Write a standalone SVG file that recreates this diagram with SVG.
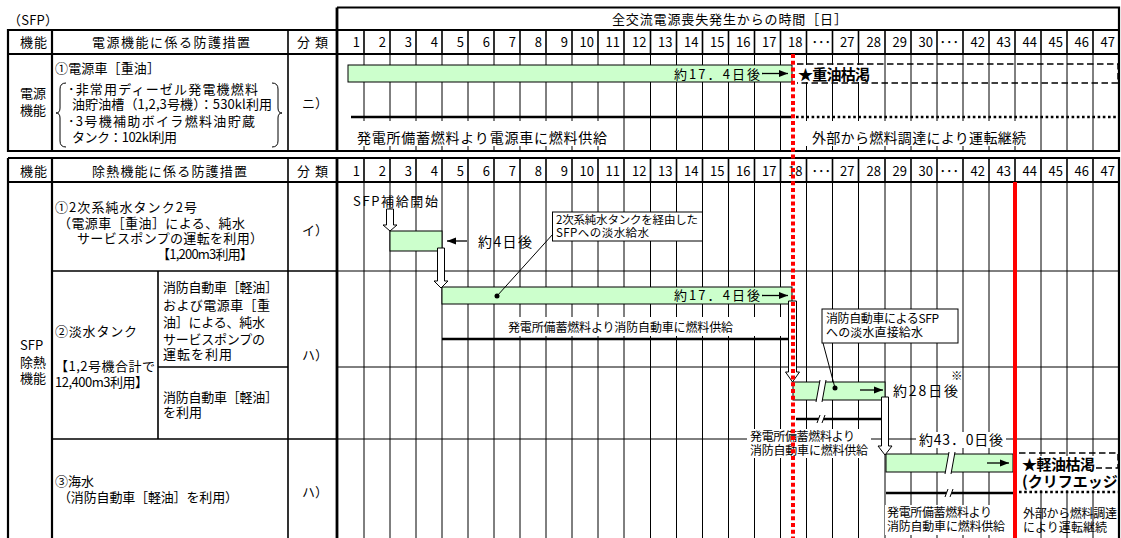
<svg xmlns="http://www.w3.org/2000/svg" width="1121" height="538" viewBox="0 0 1121 538">
<defs>
<style>
text{font-family:"Noto Sans CJK JP","Noto Sans CJK SC",sans-serif;fill:#000}
.f13{font-size:13px}
.f14{font-size:14px}
.f12{font-size:12px}
.f11{font-size:11.5px}
.num{font-size:13px;text-anchor:end}
.bold{font-size:15px;font-weight:bold}
.g{stroke:#000;stroke-width:1;fill:none}
.gh{stroke:#000;stroke-width:1.6;fill:none}
.b{stroke:#000;stroke-width:2.2;fill:none}
.bt{stroke:#000;stroke-width:2.8;fill:none}
.bar{fill:#ccffcc;stroke:#000;stroke-width:1}
.wb{fill:#fff;stroke:none}
.box{fill:#fff;stroke:#000;stroke-width:1}
.hol{fill:#fff;stroke:#000;stroke-width:1}
.thick{stroke:#000;stroke-width:2.6;fill:none}
.dotl{stroke:#000;stroke-width:2.6;stroke-dasharray:2.6 2.6;fill:none}
.dash{stroke:#000;stroke-width:1.4;stroke-dasharray:6.5 3.5;fill:none}
.arr{stroke:#000;stroke-width:1.3;fill:none;marker-end:url(#ah)}
.lead{stroke:#000;stroke-width:1;fill:none}
.redd{stroke:#ff0000;stroke-width:4;stroke-dasharray:4 2.7;fill:none}
.reds{stroke:#ff0000;stroke-width:4;fill:none}
</style>
<marker id="ah" markerWidth="9" markerHeight="8" refX="9" refY="4" orient="auto" markerUnits="userSpaceOnUse"><path d="M0,0.5 L9,4 L0,7.5 Z" fill="#000"/></marker>
<clipPath id="clipR"><rect x="0" y="0" width="1118" height="538"/></clipPath>
</defs>
<rect width="1121" height="538" fill="#fff"/>

<g id="grid">
<path class="gh" d="M364,30V54M390,30V54M416,30V54M442,30V54M468,30V54M494,30V54M520,30V54M546,30V54M572,30V54M598,30V54M624,30V54M650.5,30V54M676.5,30V54M702.5,30V54M728.5,30V54M754.5,30V54M780.5,30V54M806.5,30V54M832.5,30V54M858.5,30V54M885,30V54M911,30V54M937,30V54M963,30V54M989,30V54M1015,30V54M1041,30V54M1067,30V54M1093,30V54"/>
<path class="g" d="M364,54V151M390,54V151M416,54V151M442,54V151M468,54V151M494,54V151M520,54V151M546,54V151M572,54V151M598,54V151M624,54V151M650.5,54V151M676.5,54V151M702.5,54V151M728.5,54V151M754.5,54V151M780.5,54V151M806.5,54V151M832.5,54V151M858.5,54V151M885,54V151M911,54V151M937,54V151M963,54V151M989,54V151M1015,54V151M1041,54V151M1067,54V151M1093,54V151"/>
<path class="gh" d="M364,158V182M390,158V182M416,158V182M442,158V182M468,158V182M494,158V182M520,158V182M546,158V182M572,158V182M598,158V182M624,158V182M650.5,158V182M676.5,158V182M702.5,158V182M728.5,158V182M754.5,158V182M780.5,158V182M806.5,158V182M832.5,158V182M858.5,158V182M885,158V182M911,158V182M937,158V182M963,158V182M989,158V182M1015,158V182M1041,158V182M1067,158V182M1093,158V182"/>
<path class="g" d="M364,182V538M390,182V538M416,182V538M442,182V538M468,182V538M494,182V538M520,182V538M546,182V538M572,182V538M598,182V538M624,182V538M650.5,182V538M676.5,182V538M702.5,182V538M728.5,182V538M754.5,182V538M780.5,182V538M806.5,182V538M832.5,182V538M858.5,182V538M885,182V538M911,182V538M937,182V538M963,182V538M989,182V538M1015,182V538M1041,182V538M1067,182V538M1093,182V538"/>
<path class="g" d="M337,271H1119M337,367H1119M337,439H1119"/>
<path class="gh" d="M52,271H337M158,367H288M52,439H337M158,271V439M288,158V538M288,30V151"/>
<path class="b" d="M337,7.5H1119V151H8V30H1119M8,54H1119M52,30V151M8,158H1119V538M8,158V538M8,182H1119M52,158V538"/>
<path class="bt" d="M337,7.5V151M337,158V538"/>
</g>

<g id="header-top">
<text class="f13" x="8" y="25" textLength="50">（SFP）</text>
<text class="f13" x="612" y="24" textLength="235">全交流電源喪失発生からの時間［日］</text>
<text class="f13" x="20" y="47" textLength="27">機能</text>
<text class="f13" x="92" y="47" textLength="158">電源機能に係る防護措置</text>
<text class="f13" x="297" y="47" textLength="31">分類</text>
<g class="num">
<text x="360" y="47">1</text><text x="386" y="47">2</text><text x="412" y="47">3</text><text x="438" y="47">4</text><text x="464" y="47">5</text><text x="490" y="47">6</text><text x="516" y="47">7</text><text x="542" y="47">8</text><text x="568" y="47">9</text><text x="594" y="47">10</text><text x="620" y="47">11</text><text x="646.5" y="47">12</text><text x="672.5" y="47">13</text><text x="698.5" y="47">14</text><text x="724.5" y="47">15</text><text x="750.5" y="47">16</text><text x="776.5" y="47">17</text><text x="802.5" y="47">18</text><text x="831" y="47">･･･</text><text x="854.5" y="47">27</text><text x="881" y="47">28</text><text x="907" y="47">29</text><text x="933" y="47">30</text><text x="959" y="47">･･･</text><text x="985" y="47">42</text><text x="1011" y="47">43</text><text x="1037" y="47">44</text><text x="1063" y="47">45</text><text x="1089" y="47">46</text><text x="1115" y="47">47</text>
</g>
</g>

<g id="row-power">
<text class="f13" x="20" y="98">電源</text>
<text class="f13" x="20" y="115">機能</text>
<text class="f13" x="55" y="73" textLength="105">①電源車［重油］</text>
<path class="lead" d="M66,83 Q60,83 60,89 L60,108 Q60,113 56,113 Q60,113 60,118 L60,141 Q60,147 66,147"/>
<path class="lead" d="M272,83 Q278,83 278,89 L278,108 Q278,113 282,113 Q278,113 278,118 L278,141 Q278,147 272,147"/>
<text class="f13" x="68" y="94" textLength="190">･非常用ディーゼル発電機燃料</text>
<text class="f13" x="72" y="109" textLength="200">油貯油槽（1,2,3号機）：530kl利用</text>
<text class="f13" x="68" y="126" textLength="187">･3号機補助ボイラ燃料油貯蔵</text>
<text class="f13" x="72" y="142" textLength="105">タンク：102kl利用</text>
<text class="f13" x="302" y="108">ニ）</text>
</g>

<g id="bar-power">
<rect class="bar" x="348" y="65" width="444" height="17"/>
<text class="f13" x="674" y="79" textLength="86">約17．4日後</text>
<path class="dash" d="M797,64H1118V83H797"/>
<rect class="wb" x="796" y="65" width="76" height="17"/>
<text class="bold" x="798" y="80" textLength="72">★重油枯渇</text>
<path class="thick" d="M351,117H792"/>
<path class="dotl" d="M796,117H1119"/>
<rect class="wb" x="339" y="121" width="272" height="25"/>
<text class="f14" x="357" y="143" textLength="250">発電所備蓄燃料より電源車に燃料供給</text>
<rect class="wb" x="797" y="121" width="238" height="25"/>
<text class="f14" x="812" y="143" textLength="214">外部から燃料調達により運転継続</text>
</g>

<g id="header-lower">
<text class="f13" x="20" y="176" textLength="27">機能</text>
<text class="f13" x="92" y="176" textLength="155">除熱機能に係る防護措置</text>
<text class="f13" x="297" y="176" textLength="31">分類</text>
<g class="num">
<text x="360" y="176">1</text><text x="386" y="176">2</text><text x="412" y="176">3</text><text x="438" y="176">4</text><text x="464" y="176">5</text><text x="490" y="176">6</text><text x="516" y="176">7</text><text x="542" y="176">8</text><text x="568" y="176">9</text><text x="594" y="176">10</text><text x="620" y="176">11</text><text x="646.5" y="176">12</text><text x="672.5" y="176">13</text><text x="698.5" y="176">14</text><text x="724.5" y="176">15</text><text x="750.5" y="176">16</text><text x="776.5" y="176">17</text><text x="802.5" y="176">18</text><text x="831" y="176">･･･</text><text x="854.5" y="176">27</text><text x="881" y="176">28</text><text x="907" y="176">29</text><text x="933" y="176">30</text><text x="959" y="176">･･･</text><text x="985" y="176">42</text><text x="1011" y="176">43</text><text x="1037" y="176">44</text><text x="1063" y="176">45</text><text x="1089" y="176">46</text><text x="1115" y="176">47</text>
</g>
</g>

<g id="row-labels-lower">
<text class="f13" x="20" y="350">SFP</text>
<text class="f13" x="20" y="367">除熱</text>
<text class="f13" x="20" y="383">機能</text>
<text class="f13" x="55" y="212" textLength="142">①2次系純水タンク2号</text>
<text class="f13" x="58" y="228" textLength="187">（電源車［重油］による、純水</text>
<text class="f13" x="77" y="243" textLength="186">サービスポンプの運転を利用）</text>
<text class="f13" x="157" y="259" textLength="96">【1,200m3利用】</text>
<text class="f13" x="302" y="235">イ）</text>
<text class="f13" x="55" y="336" textLength="82">②淡水タンク</text>
<text class="f13" x="55" y="371" textLength="100">【1,2号機合計で</text>
<text class="f13" x="55" y="387" textLength="93">12,400m3利用】</text>
<text class="f13" x="163" y="292" textLength="115">消防自動車［軽油］</text>
<text class="f13" x="163" y="310" textLength="107">および電源車［重</text>
<text class="f13" x="163" y="327" textLength="102">油］による、純水</text>
<text class="f13" x="163" y="344" textLength="102">サービスポンプの</text>
<text class="f13" x="163" y="359" textLength="69">運転を利用</text>
<text class="f13" x="163" y="402" textLength="115">消防自動車［軽油］</text>
<text class="f13" x="163" y="417">を利用</text>
<text class="f13" x="302" y="360">ハ）</text>
<text class="f13" x="55" y="486">③海水</text>
<text class="f13" x="58" y="502" textLength="180">（消防自動車［軽油］を利用）</text>
<text class="f13" x="302" y="497">ハ）</text>
</g>

<g id="row1-tank2">
<text class="f13" x="353" y="206" textLength="85">SFP補給開始</text>
<rect class="bar" x="390" y="231" width="52" height="20"/>
<text class="f14" x="478" y="247" textLength="54">約4日後</text>
</g>

<g id="callout-1">
<rect class="box" x="552.5" y="212" width="150" height="29"/>
<text class="f11" x="556" y="224" textLength="142">2次系純水タンクを経由した</text>
<text class="f11" x="556" y="237" textLength="93">SFPへの淡水給水</text>
</g>

<g id="row2-fresh">
<rect class="bar" x="442" y="287" width="350" height="17"/>
<text class="f13" x="674" y="300" textLength="86">約17．4日後</text>
<rect class="wb" x="500" y="317" width="282" height="19"/>
<text class="f12" x="508" y="332" textLength="225">発電所備蓄燃料より消防自動車に燃料供給</text>
<path class="thick" d="M442,339H790"/>
</g>

<g id="callout-2">
<rect class="box" x="822" y="309" width="136" height="34"/>
<text class="f12" x="826" y="323" textLength="113">消防自動車によるSFP</text>
<text class="f12" x="826" y="337" textLength="97">への淡水直接給水</text>
</g>

<g id="row2-fire">
<rect class="bar" x="793" y="382" width="92" height="18"/>
<polygon class="wb" points="820,380 826,380 822,402 816,402"/>
<path class="lead" d="M820,380L816,402M826,380L822,402"/>
<text class="f14" x="893" y="396" textLength="65">約28日後</text>
<text class="f11" x="951" y="380">※</text>
<path class="thick" d="M796,419H882"/>
<polygon class="wb" points="820,415 825,415 822,423 817,423"/>
<path class="lead" d="M820,415L817,423M825,415L822,423"/>
<rect class="wb" x="747" y="429" width="124" height="29"/>
<text class="f12" x="750" y="441" textLength="105">発電所備蓄燃料より</text>
<text class="f12" x="750" y="455" textLength="118">消防自動車に燃料供給</text>
</g>

<g id="row3-sea">
<rect class="wb" x="916" y="432" width="90" height="16"/>
<text class="f14" x="919" y="445" textLength="84">約43．0日後</text>
<rect class="bar" x="886" y="454" width="127" height="18"/>
<polygon class="wb" points="949,452 955,452 951,474 945,474"/>
<path class="lead" d="M949,452L945,474M955,452L951,474"/>
<path class="thick" d="M886,493H1013"/>
<polygon class="wb" points="948,489 953,489 950,497 945,497"/>
<path class="lead" d="M948,489L945,497M953,489L950,497"/>
<rect class="wb" x="885" y="505" width="127" height="30"/>
<text class="f12" x="887" y="517" textLength="105">発電所備蓄燃料より</text>
<text class="f12" x="887" y="531" textLength="118">消防自動車に燃料供給</text>
<path class="dash" d="M1019,453H1118V468H1096"/>
<rect class="wb" x="1019" y="456" width="77" height="34"/>
<g clip-path="url(#clipR)">
<text class="bold" x="1022" y="470" textLength="73">★軽油枯渇</text>
<text class="bold" x="1022" y="487">(クリフエッジ)</text>
</g>
<path class="dotl" d="M1019,492H1119"/>
<text class="f12" x="1023" y="518" textLength="94">外部から燃料調達</text>
<text class="f12" x="1023" y="532" textLength="84">により運転継続</text>
</g>

<g id="connectors">
<path class="arr" d="M762,73.5H788"/>
<path class="arr" d="M762,295.5H788"/>
<path class="arr" d="M467,241H447"/>
<path class="arr" d="M860,390H883"/>
<path class="arr" d="M987,463H1009"/>
<polygon class="hol" points="386.5,209 393.5,209 393.5,225 397,225 390,231 383,225 386.5,225"/>
<polygon class="hol" points="437.5,248 444.5,248 444.5,281 448,281 441,288 434,281 437.5,281"/>
<polygon class="hol" points="788.5,301 796.5,301 796.5,372 799.5,372 792.5,382 785.5,372 788.5,372"/>
<polygon class="hol" points="881.5,397 888.5,397 888.5,446 892,446 885,455 878,446 881.5,446"/>
<path class="lead" d="M497,296L553,234"/>
<circle cx="497" cy="296" r="2.5" fill="#000"/>
<path class="lead" d="M823,343L835,388"/>
<circle cx="835" cy="388" r="2.5" fill="#000"/>
</g>

<g id="red-lines">
<path class="redd" d="M793,54V538"/>
<path class="reds" d="M1015,182V538"/>
</g>
</svg>
